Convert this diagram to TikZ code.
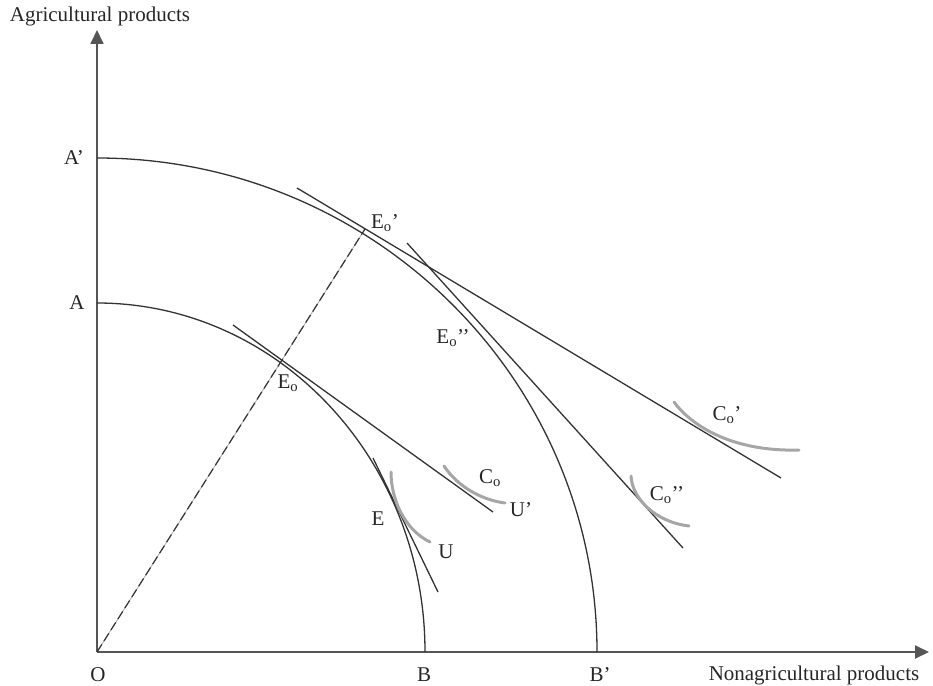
\documentclass[tikz,border=0pt]{standalone}
\usepackage{fontspec}
\setmainfont{Liberation Serif}
\usetikzlibrary{arrows.meta}
\definecolor{axisgray}{HTML}{555555}
\definecolor{curvedark}{HTML}{333333}
\definecolor{indgray}{HTML}{A6A6A6}
\definecolor{dashlight}{HTML}{AAAAAA}
\begin{document}
\begin{tikzpicture}[x=1pt,y=-1pt,
  axis/.style={draw=axisgray,line width=1.8pt,-{Triangle[length=14pt,width=13pt]}},
  ppf/.style={draw=curvedark,line width=1.3pt},
  budget/.style={draw=curvedark,line width=1.3pt},
  indiff/.style={draw=indgray,line width=3pt,line cap=round},
  ray/.style={draw=dashlight,line width=0.8pt},
  raydash/.style={draw=curvedark,line width=1.2pt,dash pattern=on 9pt off 4pt},
  lbl/.style={font=\fontsize{21}{25}\selectfont,inner sep=0pt,text=black!85}]
\useasboundingbox (0,0) rectangle (933,685);

% points
\coordinate (O) at (97,652);
\coordinate (ytip) at (97,30);
\coordinate (xtip) at (929,652);
\coordinate (A) at (97,303);
\coordinate (Ap) at (97,158);
\coordinate (Eop) at (365,229);

% axes
\draw[axis] (O) -- (ytip);
\draw[axis] (O) -- (xtip);

% production possibility frontiers
\draw[ppf] (A) arc[start angle=-90,end angle=0,x radius=328,y radius=349] coordinate (B);
\draw[ppf] (Ap) arc[start angle=-90,end angle=0,x radius=500,y radius=494] coordinate (Bp);

% ray from origin
\draw[ray] (O) -- (Eop);
\draw[raydash] (O) -- (Eop);

% price lines
\coordinate (l1a) at (233,325); \coordinate (l1b) at (493,512);
\coordinate (l2a) at (373,458); \coordinate (l2b) at (438,592);
\coordinate (l3a) at (297,188); \coordinate (l3b) at (781,478);
\coordinate (l4a) at (407,243); \coordinate (l4b) at (683,548);
\draw[budget] (l1a) -- (l1b);
\draw[budget] (l2a) -- (l2b);
\draw[budget] (l3a) -- (l3b);
\draw[budget] (l4a) -- (l4b);

% indifference curves
\coordinate (u1) at (391,472); \coordinate (u2) at (430,542);
\coordinate (c1) at (444,466); \coordinate (c2) at (505,503);
\coordinate (d1) at (674,402); \coordinate (d2) at (799,450);
\coordinate (e1) at (631,476); \coordinate (e2) at (689,526);
\draw[indiff] (u1) .. controls (391,500) and (405,530) .. (u2);
\draw[indiff] (c1) .. controls (458,487) and (482,500) .. (c2);
\draw[indiff] (d1) .. controls (690,424) and (730,452) .. (d2);
\draw[indiff] (e1) .. controls (632,498) and (655,522) .. (e2);

% labels
\node[lbl] (tY) at (100,16) {Agricultural products};
\node[lbl] (tX) at (814,675) {Nonagricultural products};
\node[lbl] (tO) at (98,675) {O};
\node[lbl] (tB) at (424,675) {B};
\node[lbl] (tBp) at (600,675) {B’};
\node[lbl] (tA) at (77,303) {A};
\node[lbl] (tAp) at (74,158) {A’};
\node[lbl] (tEop) at (385,223) {E\textsubscript{o}’};
\node[lbl] (tEopp) at (453,338) {E\textsubscript{o}’’};
\node[lbl] (tEo) at (288,383) {E\textsubscript{o}};
\node[lbl] (tE) at (378,519) {E};
\node[lbl] (tU) at (446,552) {U};
\node[lbl] (tCo) at (490,478) {C\textsubscript{o}};
\node[lbl] (tUp) at (521,510) {U’};
\node[lbl] (tCop) at (727,415) {C\textsubscript{o}’};
\node[lbl] (tCopp) at (667,495) {C\textsubscript{o}’’};
\end{tikzpicture}
\end{document}
